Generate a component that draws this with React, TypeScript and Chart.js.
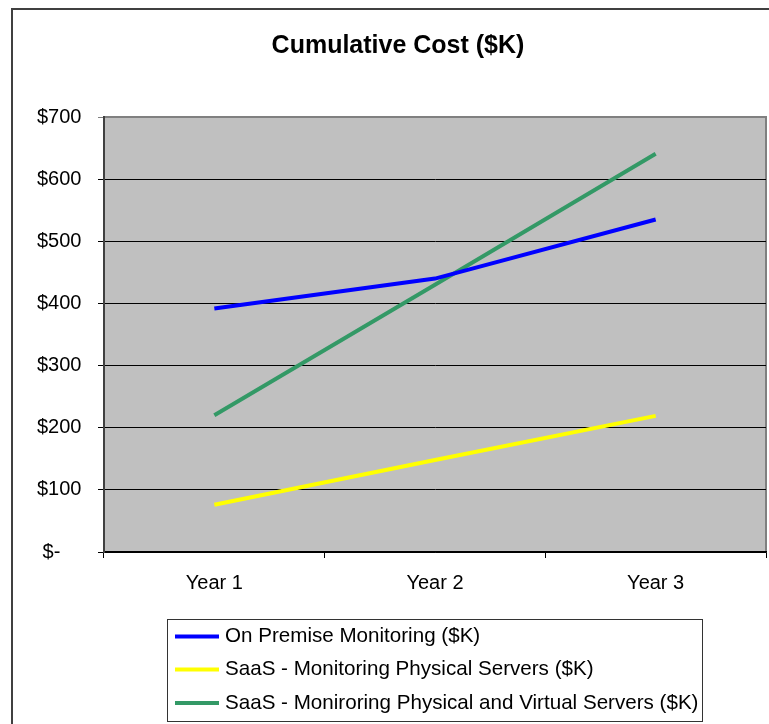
import React, { useEffect, useRef } from "react";
import { Chart, registerables } from "chart.js";

Chart.register(...registerables);

const categories = ["Year 1", "Year 2", "Year 3"];
const onPremise = [392, 440, 535];
const saasPhysical = [76, 148, 219];
const saasPhysVirtual = [220, 430, 641];
const seriesLabels = [
  "On Premise Monitoring ($K)",
  "SaaS - Monitoring Physical Servers ($K)",
  "SaaS - Moniroring Physical and Virtual Servers ($K)",
];
const seriesColors = ["#0000FF", "#FFFF00", "#339966"];
const yTicks = [0, 100, 200, 300, 400, 500, 600, 700];
const titleText = "Cumulative Cost ($K)";

const FONT = '"Liberation Sans", Arial, sans-serif';

const framePlugin = {
  id: "frame",
  beforeDraw(chart: any) {
    const { ctx, chartArea } = chart;
    ctx.save();
    ctx.fillStyle = "#FFFFFF";
    ctx.fillRect(0, 0, chart.width, chart.height);
    ctx.strokeStyle = "#404040";
    ctx.lineWidth = 2;
    ctx.strokeRect(12, 9, 900, 900);
    ctx.fillStyle = "#C0C0C0";
    ctx.fillRect(chartArea.left, chartArea.top, chartArea.right - chartArea.left, chartArea.bottom - chartArea.top);
    ctx.strokeStyle = "#808080";
    ctx.lineWidth = 2;
    ctx.strokeRect(chartArea.left, chartArea.top, chartArea.right - chartArea.left, chartArea.bottom - chartArea.top);
    ctx.restore();
  },
  afterDraw(chart: any) {
    const { ctx } = chart;
    ctx.save();
    // title
    ctx.fillStyle = "#000";
    ctx.font = `bold 25px ${FONT}`;
    ctx.textAlign = "center";
    ctx.textBaseline = "alphabetic";
    ctx.fillText(titleText, 398, 53);
    // legend
    const bx = 167.5, by = 619.5, bw = 535, bh = 102;
    ctx.fillStyle = "#FFFFFF";
    ctx.fillRect(bx, by, bw, bh);
    ctx.strokeStyle = "#333333";
    ctx.lineWidth = 1;
    ctx.strokeRect(bx, by, bw, bh);
    const rows = [636.5, 669.5, 703];
    chart.data.datasets.forEach((ds: any, i: number) => {
      const y = rows[i];
      ctx.strokeStyle = ds.borderColor;
      ctx.lineWidth = 4;
      ctx.beginPath();
      ctx.moveTo(175, y);
      ctx.lineTo(219, y);
      ctx.stroke();
      ctx.fillStyle = "#000";
      ctx.font = `20.6px ${FONT}`;
      ctx.textAlign = "left";
      ctx.textBaseline = "middle";
      ctx.fillText(ds.label, 225, y);
    });
    ctx.restore();
  },
};

export default function App() {
  const ref = useRef<HTMLCanvasElement | null>(null);
  useEffect(() => {
    if (!ref.current) return;
    Chart.defaults.font.family = FONT;
    const chart = new Chart(ref.current, {
      type: "line",
      data: {
        labels: categories,
        datasets: [onPremise, saasPhysical, saasPhysVirtual].map((d, i) => ({
          label: seriesLabels[i],
          data: d,
          borderColor: seriesColors[i],
          backgroundColor: seriesColors[i],
          borderWidth: 4,
          pointRadius: 0,
          tension: 0,
          fill: false,
        })),
      },
      options: {
        animation: false,
        responsive: false,
        layout: { padding: { left: 37, top: 117, right: 3, bottom: 132 } },
        plugins: {
          legend: { display: false },
          title: { display: false },
          tooltip: { enabled: false },
        },
        scales: {
          x: {
            offset: true,
            afterFit: (s: any) => { s.height = 40; },
            grid: {
              offset: true,
              drawOnChartArea: false,
              drawTicks: true,
              tickLength: 6,
              color: "#000",
              lineWidth: 1,
            },
            border: { color: "#000", width: 1.5 },
            ticks: {
              color: "#000",
              font: { size: 20, family: FONT },
              padding: 13,
              maxRotation: 0,
            },
          },
          y: {
            min: 0,
            max: 700,
            afterFit: (s: any) => { s.width = 67; },
            afterBuildTicks: (s: any) => { s.ticks = yTicks.map((v) => ({ value: v })); },
            grid: {
              color: (c: any) => (c.tick && c.tick.value === 700 ? "#808080" : "#000"),
              lineWidth: 1,
              tickLength: 6,
            },
            border: { color: "#404040", width: 2 },
            ticks: {
              color: "#000",
              crossAlign: "far",
              font: { size: 20, family: FONT },
              callback: (v: any) => (Number(v) === 0 ? " $-" : "$" + v),
            },
          },
        },
      },
      plugins: [framePlugin],
    });
    return () => chart.destroy();
  }, []);
  return (
    <div style={{ position: "absolute", left: 0, top: 0, width: 769, height: 724, overflow: "hidden" }}>
      <canvas ref={ref} width={769} height={724} style={{ display: "block" }} />
    </div>
  );
}
